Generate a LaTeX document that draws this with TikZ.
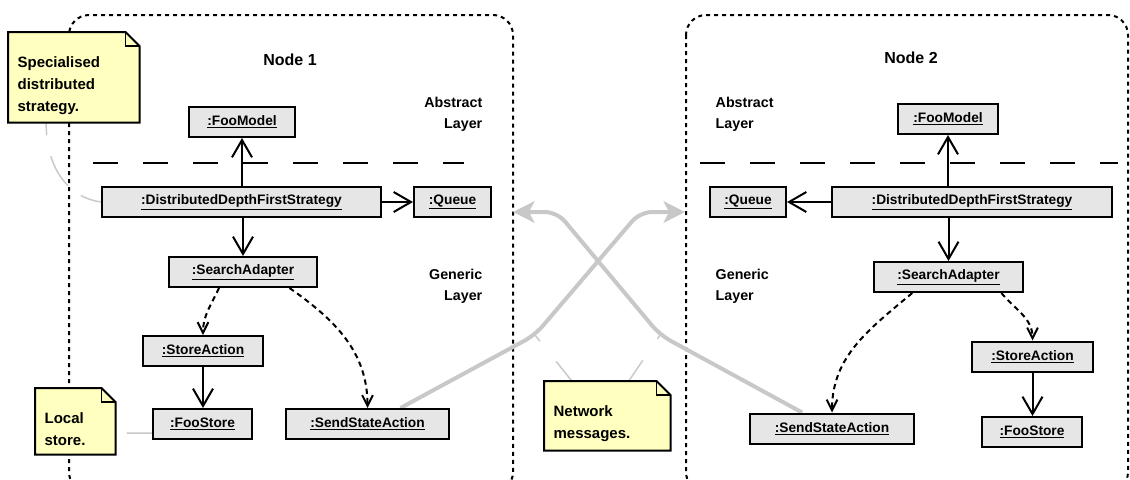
\documentclass[tikz,border=0pt]{standalone}
\usepackage{fontspec}
\setmainfont{Liberation Sans}
\usetikzlibrary{arrows.meta, calc}
\definecolor{objgrey}{RGB}{230,230,230}
\definecolor{noteyel}{RGB}{255,255,192}
\definecolor{netgrey}{RGB}{200,200,200}
\pgfdeclarelayer{back}
\pgfdeclarelayer{paper}
\pgfsetlayers{back,paper,main}

\tikzset{
  obj/.style={draw, line width=1.5pt, fill=objgrey, minimum height=22.5pt, inner sep=0pt,
    font=\fontsize{10.3}{12}\selectfont\bfseries},
  note/.style={anchor=north west, align=left, inner xsep=7pt, inner ysep=0pt,
    font=\fontsize{11.25}{16.5}\selectfont\bfseries, execute at begin node=\rule{0pt}{20.5pt}},
  notepaper/.style={draw, line width=1.5pt, fill=noteyel, line join=miter},
  layer/.style={font=\fontsize{10.7}{15.4}\selectfont\bfseries},
  title/.style={font=\fontsize{12}{14}\selectfont\bfseries},
  assoc/.style={line width=1.5pt, -{Straight Barb[length=13pt,width=15pt]}},
  dep/.style={line width=1.5pt, dash pattern=on 4pt off 3pt, -{Straight Barb[length=8pt,width=8pt]}},
  msg/.style={netgrey, line width=3pt, rounded corners=9pt, -{Stealth[length=16pt,width=16pt,inset=4pt]}},
  noteline/.style={netgrey, line width=1.1pt},
  nodebox/.style={line width=1.5pt, dash pattern=on 3pt off 3pt, rounded corners=15pt},
  layerline/.style={line width=1.5pt, dash pattern=on 18.75pt off 18.75pt},
}

\begin{document}
\begin{tikzpicture}[x=0.75pt, y=-0.75pt]
    \useasboundingbox (0,0) rectangle (1130,479);

    % node 1
    \node[title] (t1) at (290,60) {Node 1};
    \node[layer, align=right, anchor=east] (abs1) at (487,114.5) {Abstract\\Layer};
    \node[layer, align=right, anchor=east] (gen1) at (487,286.5) {Generic\\Layer};
    \node[obj, minimum width=79.5pt] (fm1) at (242,122) {\underline{:FooModel}};
    \node[obj, minimum width=209.25pt] (dd1) at (241.5,202) {\underline{:DistributedDepthFirstStrategy}};
    \node[obj, minimum width=57.75pt] (qu1) at (452.5,202) {\underline{:Queue}};
    \node[obj, minimum width=111pt] (sa1) at (243,272) {\underline{:SearchAdapter}};
    \node[obj, minimum width=90pt] (st1) at (203,351) {\underline{:StoreAction}};
    \node[obj, minimum width=74.25pt] (fs1) at (202.5,424) {\underline{:FooStore}};
    \node[obj, minimum width=122.25pt] (ss1) at (367.5,424) {\underline{:SendStateAction}};

    \draw[assoc] (dd1.north -| fm1) -- (fm1.south);
    \draw[assoc] (dd1.east) -- (qu1.west);
    \draw[assoc] (dd1.south -| sa1) -- (sa1.north);
    \draw[assoc] (st1.south) -- (st1.south |- fs1.north);
    \draw[dep] ($(sa1.south west)!0.34!(sa1.south east)$) to[out=-115, in=90] (st1.north);
    \draw[dep] ($(sa1.south west)!0.81!(sa1.south east)$) to[out=-35, in=90] (ss1.north);

    % node 2
    \node[title] (t2) at (911,58) {Node 2};
    \node[layer, align=left, anchor=west] (abs2) at (711,114.5) {Abstract\\Layer};
    \node[layer, align=left, anchor=west] (gen2) at (711,286.5) {Generic\\Layer};
    \node[obj, minimum width=75pt] (fm2) at (948,119) {\underline{:FooModel}};
    \node[obj, minimum width=210pt] (dd2) at (972,202) {\underline{:DistributedDepthFirstStrategy}};
    \node[obj, minimum width=57pt] (qu2) at (748,202) {\underline{:Queue}};
    \node[obj, minimum width=111.75pt] (sa2) at (948.5,277) {\underline{:SearchAdapter}};
    \node[obj, minimum width=90.75pt] (st2) at (1032.5,356.5) {\underline{:StoreAction}};
    \node[obj, minimum width=75pt] (fs2) at (1032,432) {\underline{:FooStore}};
    \node[obj, minimum width=123pt] (ss2) at (832,428.5) {\underline{:SendStateAction}};

    \draw[assoc] (dd2.north -| fm2) -- (fm2.south);
    \draw[assoc] (dd2.west) -- (qu2.east);
    \draw[assoc] (dd2.south -| sa2) -- (sa2.north);
    \draw[assoc] (st2.south) -- (st2.south |- fs2.north);
    \draw[dep] ($(sa2.south west)!0.85!(sa2.south east)$) to[out=-50, in=90] (st2.north);
    \draw[dep] ($(sa2.south west)!0.26!(sa2.south east)$) to[out=-140, in=90] (ss2.north);

    % notes
    \node[note, minimum width=98.25pt, minimum height=67.5pt, text width=84.25pt] (specnote) at (8,32) {Specialised\\distributed\\strategy.};
    \node[note, minimum width=60pt, minimum height=49.5pt, text width=46pt] (localnote) at (35,388) {Local\\store.};
    \node[note, minimum width=94.5pt, minimum height=51.75pt, text width=80.5pt] (netnote) at (544,381) {Network\\messages.};

    \begin{pgfonlayer}{paper}
        \foreach \n in {specnote, localnote, netnote} {
            \draw[notepaper] (\n.north west) -- ([xshift=-10.5pt]\n.north east) -- ([yshift=-10.5pt]\n.north east)
                -- (\n.south east) -- (\n.south west) -- cycle;
            \draw[line width=0.8pt] ([xshift=-10.5pt]\n.north east) |- ([yshift=-10.5pt]\n.north east);
        }
    \end{pgfonlayer}

    \begin{pgfonlayer}{back}
        \draw[nodebox] (69,15) rectangle (513,492);
        \draw[nodebox] (686,15) rectangle (1128,492);
        \draw[layerline] (93,163) -- (464,163);
        \draw[layerline] (700,163) -- (1118,163);

        % messages between the nodes
        \coordinate (b1) at (535,335);
        \coordinate (k1) at (640,212);
        \coordinate (in2) at (685,212);
        \coordinate (b2) at (660,335);
        \coordinate (k2) at (557,212);
        \coordinate (in1) at (513,212);
        \draw[msg] ($(ss1.north west)!0.7!(ss1.north east)$) -- (b1) -- (k1) -- (in2);
        \draw[msg] ($(ss2.north west)!0.32!(ss2.north east)$) -- (b2) -- (k2) -- (in1);

        \draw[noteline, dash pattern=on 16pt off 12pt on 26pt off 16pt on 12pt] (dd1.west) .. controls (70,198) and (46,170) .. ($(specnote.south west)!0.29!(specnote.south east)$);
        \draw[noteline, dash pattern=on 19pt off 20pt] ([yshift=-6.75pt]fs1.west) -- ([yshift=-9pt]localnote.east);
        \draw[noteline, dash pattern=on 18.75pt off 19.5pt on 10pt] ($(netnote.north west)!0.22!(netnote.north east)$) -- (b1);
        \draw[noteline, dash pattern=on 18.75pt off 19.5pt on 10pt] ($(netnote.north west)!0.67!(netnote.north east)$) -- (b2);
    \end{pgfonlayer}
\end{tikzpicture}
\end{document}
